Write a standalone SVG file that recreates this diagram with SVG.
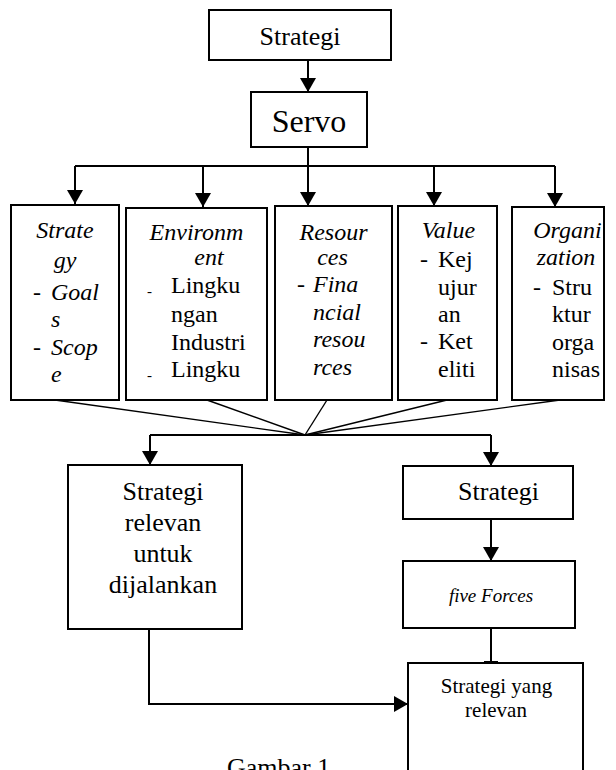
<svg xmlns="http://www.w3.org/2000/svg" width="616" height="770" viewBox="0 0 616 770">
<style>
.box{fill:#fff;stroke:#000;stroke-width:2}
.t{font-family:'Liberation Serif','Tinos','DejaVu Serif',serif;fill:#000}
.i{font-style:italic}
.c{text-anchor:middle}
.s24{font-size:24px}
.con{fill:none;stroke:#000;stroke-width:2}
.fan{fill:none;stroke:#000;stroke-width:1.4}
</style>
<defs>
<marker id="ah" markerUnits="userSpaceOnUse" markerWidth="15" markerHeight="16" refX="14" refY="8" orient="auto">
<path d="M0,0 L14,8 L0,16 z" fill="#000"/>
</marker>
</defs>
<rect width="616" height="770" fill="#fff"/>

<g id="connectors">
<line class="con" x1="308" y1="60" x2="308" y2="92" marker-end="url(#ah)"/>
<polyline class="con" points="308,147 308,166"/>
<polyline class="con" points="75,166 555,166"/>
<line class="con" x1="75" y1="166" x2="75" y2="204" marker-end="url(#ah)"/>
<line class="con" x1="203" y1="166" x2="203" y2="207" marker-end="url(#ah)"/>
<line class="con" x1="308" y1="166" x2="308" y2="206" marker-end="url(#ah)"/>
<line class="con" x1="434" y1="166" x2="434" y2="206" marker-end="url(#ah)"/>
<line class="con" x1="555" y1="166" x2="555" y2="207" marker-end="url(#ah)"/>
<line class="fan" x1="55" y1="400" x2="305" y2="435"/>
<line class="fan" x1="207" y1="400" x2="305" y2="435"/>
<line class="fan" x1="327" y1="400" x2="305" y2="435"/>
<line class="fan" x1="447" y1="400" x2="305" y2="435"/>
<line class="fan" x1="560" y1="400" x2="305" y2="435"/>
<polyline class="con" points="150,435 491,435"/>
<line class="con" x1="150" y1="435" x2="150" y2="465" marker-end="url(#ah)"/>
<line class="con" x1="491" y1="435" x2="491" y2="466" marker-end="url(#ah)"/>
<line class="con" x1="491" y1="519" x2="491" y2="561" marker-end="url(#ah)"/>
<line class="con" x1="491" y1="628" x2="491" y2="663"/>
<line x1="484" y1="661.5" x2="498" y2="661.5" stroke="#000" stroke-width="1"/>
<polyline class="con" points="149,629 149,704 408,704" marker-end="url(#ah)"/>
</g>

<g id="strategi-top">
<rect class="box" x="209" y="10" width="182" height="50"/>
<text class="t c" x="300" y="45" font-size="26">Strategi</text>
</g>

<g id="servo">
<rect class="box" x="251" y="92" width="116" height="55"/>
<text class="t c" x="309" y="132" font-size="32">Servo</text>
</g>

<g id="strategy">
<rect class="box" x="11" y="205" width="108" height="195"/>
<text class="t i c s24" x="65" y="238">Strate</text>
<text class="t i c s24" x="65" y="268">gy</text>
<text class="t s24" x="33" y="300">-</text>
<text class="t i s24" x="51" y="300">Goal</text>
<text class="t i s24" x="51" y="327">s</text>
<text class="t s24" x="33" y="355">-</text>
<text class="t i s24" x="51" y="355">Scop</text>
<text class="t i s24" x="51" y="382">e</text>
</g>

<g id="environment">
<rect class="box" x="126" y="208" width="141" height="192"/>
<text class="t i c s24" x="196.5" y="240">Environm</text>
<text class="t i c s24" x="209" y="265">ent</text>
<text class="t" x="147" y="296" font-size="15">-</text>
<text class="t s24" x="171" y="293">Lingku</text>
<text class="t s24" x="171" y="322">ngan</text>
<text class="t s24" x="171" y="350">Industri</text>
<text class="t" x="147" y="380" font-size="15">-</text>
<text class="t s24" x="171" y="377">Lingku</text>
</g>

<g id="resources">
<rect class="box" x="275" y="206" width="117" height="194"/>
<text class="t i c s24" x="333.5" y="240">Resour</text>
<text class="t i c s24" x="332.5" y="265">ces</text>
<text class="t s24" x="297" y="292">-</text>
<text class="t i s24" x="313" y="292">Fina</text>
<text class="t i s24" x="313" y="320">ncial</text>
<text class="t i s24" x="313" y="347">resou</text>
<text class="t i s24" x="313" y="375">rces</text>
</g>

<g id="value">
<rect class="box" x="398" y="206" width="99" height="194"/>
<text class="t i c s24" x="448.5" y="238">Value</text>
<text class="t s24" x="420" y="267">-</text>
<text class="t s24" x="438" y="267">Kej</text>
<text class="t s24" x="438" y="295">ujur</text>
<text class="t s24" x="438" y="322">an</text>
<text class="t s24" x="420" y="349">-</text>
<text class="t s24" x="438" y="349">Ket</text>
<text class="t s24" x="438" y="377">eliti</text>
</g>

<g id="organization">
<rect class="box" x="512" y="207" width="92" height="193"/>
<text class="t i c s24" x="567.5" y="238">Organi</text>
<text class="t i c s24" x="566" y="265">zation</text>
<text class="t s24" x="533" y="295">-</text>
<text class="t s24" x="552" y="295">Stru</text>
<text class="t s24" x="552" y="322">ktur</text>
<text class="t s24" x="552" y="350">orga</text>
<text class="t s24" x="552" y="377">nisas</text>
</g>

<g id="strategi-relevan-untuk-dijalankan">
<rect class="box" x="68" y="465" width="174" height="164"/>
<text class="t c" x="163" y="500" font-size="26">Strategi</text>
<text class="t c" x="163" y="531" font-size="26">relevan</text>
<text class="t c" x="163" y="562" font-size="26">untuk</text>
<text class="t c" x="163" y="593" font-size="26">dijalankan</text>
</g>

<g id="strategi-right">
<rect class="box" x="403" y="466" width="170" height="53"/>
<text class="t c" x="498.5" y="500" font-size="26">Strategi</text>
</g>

<g id="five-forces">
<rect class="box" x="403" y="561" width="172" height="67"/>
<text class="t i c" x="491" y="602" font-size="19">five Forces</text>
</g>

<g id="strategi-yang-relevan">
<rect class="box" x="408" y="663" width="175" height="130"/>
<text class="t c" x="496.5" y="693" font-size="21">Strategi yang</text>
<text class="t c" x="496" y="717" font-size="21">relevan</text>
</g>

<g id="caption">
<text class="t" x="227" y="776" font-size="26">Gambar 1</text>
</g>
</svg>
